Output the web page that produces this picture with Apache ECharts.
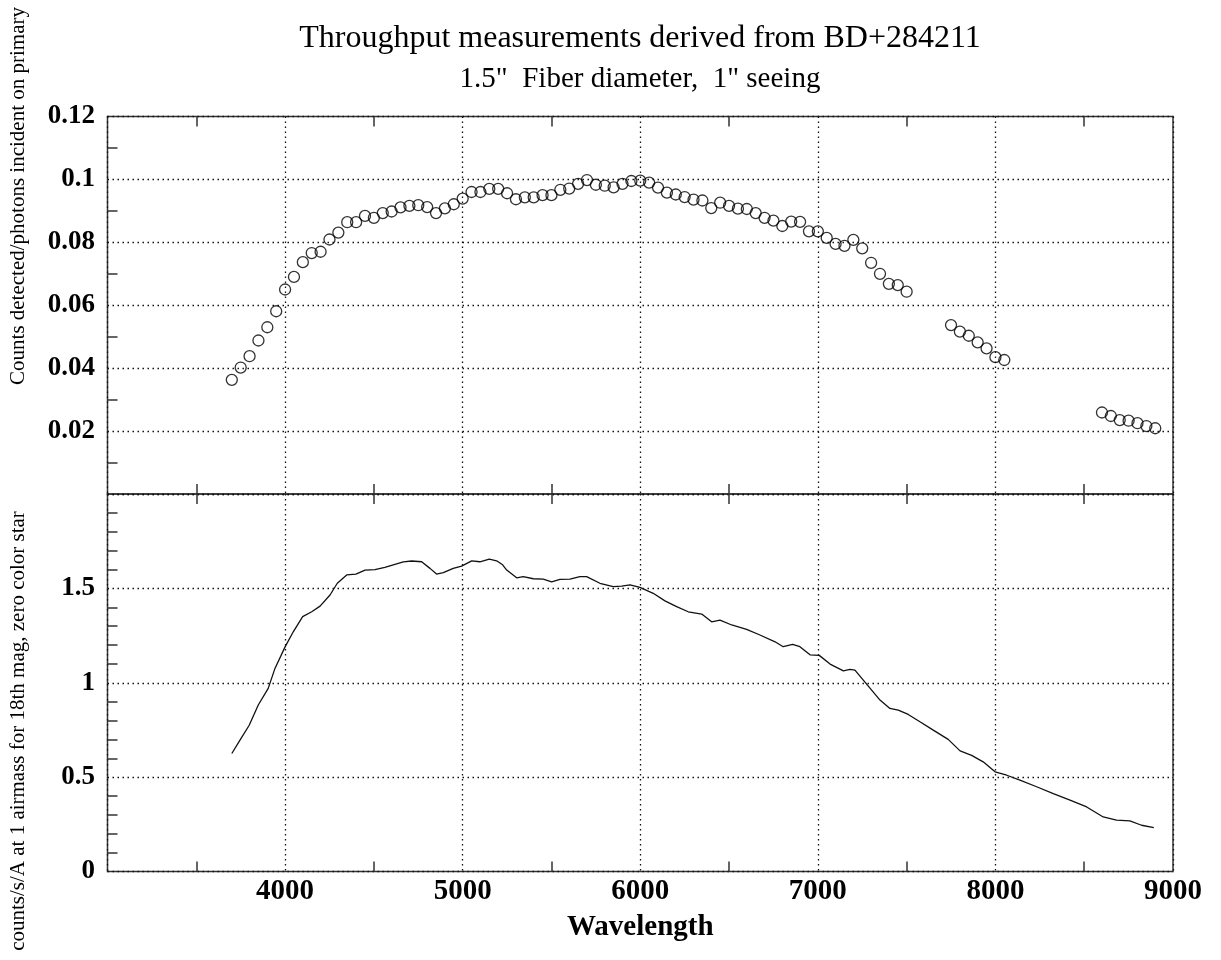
<!DOCTYPE html>
<html><head><meta charset="utf-8">
<script src="https://cdn.jsdelivr.net/npm/echarts@6/dist/echarts.min.js"></script>
<style>html,body{margin:0;padding:0;background:#fff}#c{width:1221px;height:960px}</style>
</head><body><div id="c"></div>
<script>
const titleText = 'Throughput measurements derived from BD+284211';
const subtitleText = '1.5"  Fiber diameter,  1" seeing';
const xName = 'Wavelength';
const topYName = 'Counts detected/photons incident on primary';
const bottomYName = 'counts/s/A at 1 airmass for 18th mag, zero color star';

const xTickLabels = ['4000', '5000', '6000', '7000', '8000', '9000'];
const topYTickLabels = ['0.12', '0.1', '0.08', '0.06', '0.04', '0.02'];
const bottomYTickLabels = ['0', '0.5', '1', '1.5'];

// Top panel: throughput points (open circles)
const topWave = [
  3700, 3750, 3800, 3850, 3900, 3950, 4000, 4050, 4100, 4150,
  4200, 4250, 4300, 4350, 4400, 4450, 4500, 4550, 4600, 4650,
  4700, 4750, 4800, 4850, 4900, 4950, 5000, 5050, 5100, 5150,
  5200, 5250, 5300, 5350, 5400, 5450, 5500, 5550, 5600, 5650,
  5700, 5750, 5800, 5850, 5900, 5950, 6000, 6050, 6100, 6150,
  6200, 6250, 6300, 6350, 6400, 6450, 6500, 6550, 6600, 6650,
  6700, 6750, 6800, 6850, 6900, 6950, 7000, 7050, 7100, 7150,
  7200, 7250, 7300, 7350, 7400, 7450, 7500,
  7750, 7800, 7850, 7900, 7950, 8000, 8050,
  8600, 8650, 8700, 8750, 8800, 8850, 8900
];
const topVal = [
  0.0363, 0.0402, 0.0438, 0.0488, 0.0530, 0.0581, 0.0650, 0.0690, 0.0737, 0.0766,
  0.0770, 0.0809, 0.0831, 0.0864, 0.0864, 0.0884, 0.0878, 0.0893, 0.0898, 0.0911,
  0.0916, 0.0918, 0.0912, 0.0893, 0.0908, 0.0921, 0.0939, 0.0960, 0.0960, 0.0970,
  0.0970, 0.0956, 0.0937, 0.0943, 0.0943, 0.0950, 0.0950, 0.0967, 0.0971, 0.0986,
  0.0998, 0.0983, 0.0980, 0.0975, 0.0986, 0.0995, 0.0996, 0.0990, 0.0974, 0.0958,
  0.0952, 0.0944, 0.0936, 0.0933, 0.0909, 0.0926, 0.0916, 0.0907, 0.0906, 0.0893,
  0.0878, 0.0869, 0.0852, 0.0866, 0.0865, 0.0835, 0.0835, 0.0814, 0.0795, 0.0789,
  0.0808, 0.0781, 0.0735, 0.0700, 0.0668, 0.0664, 0.0643,
  0.0537, 0.0516, 0.0503, 0.0482, 0.0463, 0.0435, 0.0426,
  0.0259, 0.0248, 0.0235, 0.0233, 0.0225, 0.0216, 0.0209
];

// Bottom panel: counts/s/A curve
const bottomWave = [
  3700, 3746, 3798, 3849, 3905, 3943, 4000, 4046, 4099, 4150,
  4197, 4253, 4294, 4347, 4399, 4450, 4506, 4562, 4609, 4666,
  4713, 4769, 4816, 4853, 4891, 4947, 4994, 5051, 5097, 5150,
  5191, 5225, 5248, 5304, 5341, 5398, 5454, 5501, 5548, 5604,
  5660, 5698, 5773, 5848, 5895, 5942, 5998, 6073, 6139, 6205,
  6270, 6346, 6402, 6449, 6515, 6599, 6674, 6759, 6805, 6858,
  6899, 6956, 7008, 7069, 7144, 7181, 7209, 7256, 7303, 7350,
  7406, 7453, 7509, 7575, 7650, 7734, 7801, 7866, 7931, 7998,
  8064, 8138, 8232, 8326, 8420, 8514, 8607, 8682, 8757, 8823,
  8892
];
const bottomVal = [
  0.625, 0.696, 0.775, 0.882, 0.970, 1.076, 1.190, 1.270, 1.350, 1.376,
  1.406, 1.465, 1.527, 1.571, 1.576, 1.597, 1.599, 1.611, 1.625, 1.640,
  1.645, 1.641, 1.606, 1.576, 1.583, 1.606, 1.618, 1.646, 1.641, 1.655,
  1.646, 1.625, 1.597, 1.556, 1.562, 1.551, 1.549, 1.535, 1.548, 1.549,
  1.562, 1.562, 1.527, 1.509, 1.512, 1.518, 1.505, 1.474, 1.434, 1.403,
  1.376, 1.364, 1.323, 1.332, 1.306, 1.283, 1.253, 1.217, 1.191, 1.203,
  1.191, 1.148, 1.145, 1.099, 1.063, 1.071, 1.067, 1.014, 0.961, 0.908,
  0.864, 0.855, 0.832, 0.793, 0.749, 0.700, 0.639, 0.615, 0.581, 0.528,
  0.510, 0.484, 0.449, 0.413, 0.378, 0.342, 0.289, 0.272, 0.268, 0.245,
  0.233
];

const FONT = 'Liberation Serif';
const INK = '#000';
const FRAME = '#333';

function pickLabel(list) {
  return function (v) {
    const s = String(+(+v).toFixed(6));
    return list.indexOf(s) >= 0 ? s : '';
  };
}

const dotted = { color: '#111', width: 1.3, type: [1.5, 3.5] };
const minorTickStyle = { color: FRAME, width: 1.5 };

function xAxisCfg(gridIndex, position, opts) {
  return Object.assign({
    type: 'value', gridIndex: gridIndex, position: position,
    min: 3000, max: 9000, interval: 1000,
    axisLine: { show: false },
    axisTick: { show: false, inside: true },
    minorTick: { show: true, splitNumber: 2, length: 10, lineStyle: minorTickStyle },
    minorSplitLine: { show: false },
    axisLabel: { show: false },
    splitLine: { show: false }
  }, opts || {});
}

const chart = echarts.init(document.getElementById('c'), null, { renderer: 'canvas' });
chart.setOption({
  animation: false,
  backgroundColor: '#fff',
  grid: [
    { left: 107.5, top: 116.5, width: 1065.5, height: 377.5, containLabel: false,
      show: true, borderColor: FRAME, borderWidth: 1.5, backgroundColor: 'transparent' },
    { left: 107.5, top: 494, width: 1065.5, height: 377.5, containLabel: false,
      show: true, borderColor: FRAME, borderWidth: 1.5, backgroundColor: 'transparent' }
  ],
  xAxis: [
    xAxisCfg(0, 'bottom', { splitLine: { show: true, lineStyle: dotted } }),
    xAxisCfg(0, 'top'),
    xAxisCfg(1, 'bottom', {
      splitLine: { show: true, lineStyle: dotted },
      axisLabel: { show: true, formatter: pickLabel(xTickLabels), margin: 6,
        fontFamily: FONT, fontSize: 29, fontWeight: 'bold', color: INK },
      name: xName, nameLocation: 'middle', nameGap: 42,
      nameTextStyle: { fontFamily: FONT, fontSize: 29, fontWeight: 'bold', color: INK }
    }),
    xAxisCfg(1, 'top')
  ],
  yAxis: [
    { type: 'value', gridIndex: 0, position: 'left', min: 0, max: 0.12, interval: 0.02,
      axisLine: { show: false },
      axisTick: { show: false, inside: true },
      minorTick: { show: true, splitNumber: 2, length: 10, lineStyle: minorTickStyle },
      splitLine: { show: true, lineStyle: dotted },
      axisLabel: { formatter: pickLabel(topYTickLabels), margin: 12.5,
        fontFamily: FONT, fontSize: 27, fontWeight: 'bold', color: INK } },
    { type: 'value', gridIndex: 1, position: 'left', min: 0, max: 2, interval: 0.5,
      axisLine: { show: false },
      axisTick: { show: false, inside: true },
      minorTick: { show: true, splitNumber: 5, length: 10, lineStyle: minorTickStyle },
      splitLine: { show: true, lineStyle: dotted },
      axisLabel: { formatter: pickLabel(bottomYTickLabels), margin: 12.5,
        fontFamily: FONT, fontSize: 27, fontWeight: 'bold', color: INK } }
  ],
  series: [
    { type: 'scatter', xAxisIndex: 0, yAxisIndex: 0,
      data: topWave.map((w, i) => [w, topVal[i]]),
      symbol: 'circle', symbolSize: 11,
      itemStyle: { color: 'rgba(0,0,0,0)', borderColor: '#000', borderWidth: 1.3 } },
    { type: 'line', xAxisIndex: 2, yAxisIndex: 1,
      data: bottomWave.map((w, i) => [w, bottomVal[i]]),
      showSymbol: false, symbol: 'none',
      lineStyle: { color: '#111', width: 1.3 } }
  ],
  graphic: [
    { type: 'text', x: 640, y: 39, silent: true,
      style: { text: titleText, fontFamily: FONT, fontSize: 32, fill: INK, align: 'center', verticalAlign: 'middle' } },
    { type: 'text', x: 640, y: 79, silent: true,
      style: { text: subtitleText, fontFamily: FONT, fontSize: 29, fill: INK, align: 'center', verticalAlign: 'middle' } },
    { type: 'text', x: 18, y: 196, rotation: Math.PI / 2, silent: true,
      style: { text: topYName, fontFamily: FONT, fontSize: 21, fill: INK, align: 'center', verticalAlign: 'middle' } },
    { type: 'text', x: 18, y: 731, rotation: Math.PI / 2, silent: true,
      style: { text: bottomYName, fontFamily: FONT, fontSize: 21, fill: INK, align: 'center', verticalAlign: 'middle' } }
  ]
});
</script>
</body></html>
